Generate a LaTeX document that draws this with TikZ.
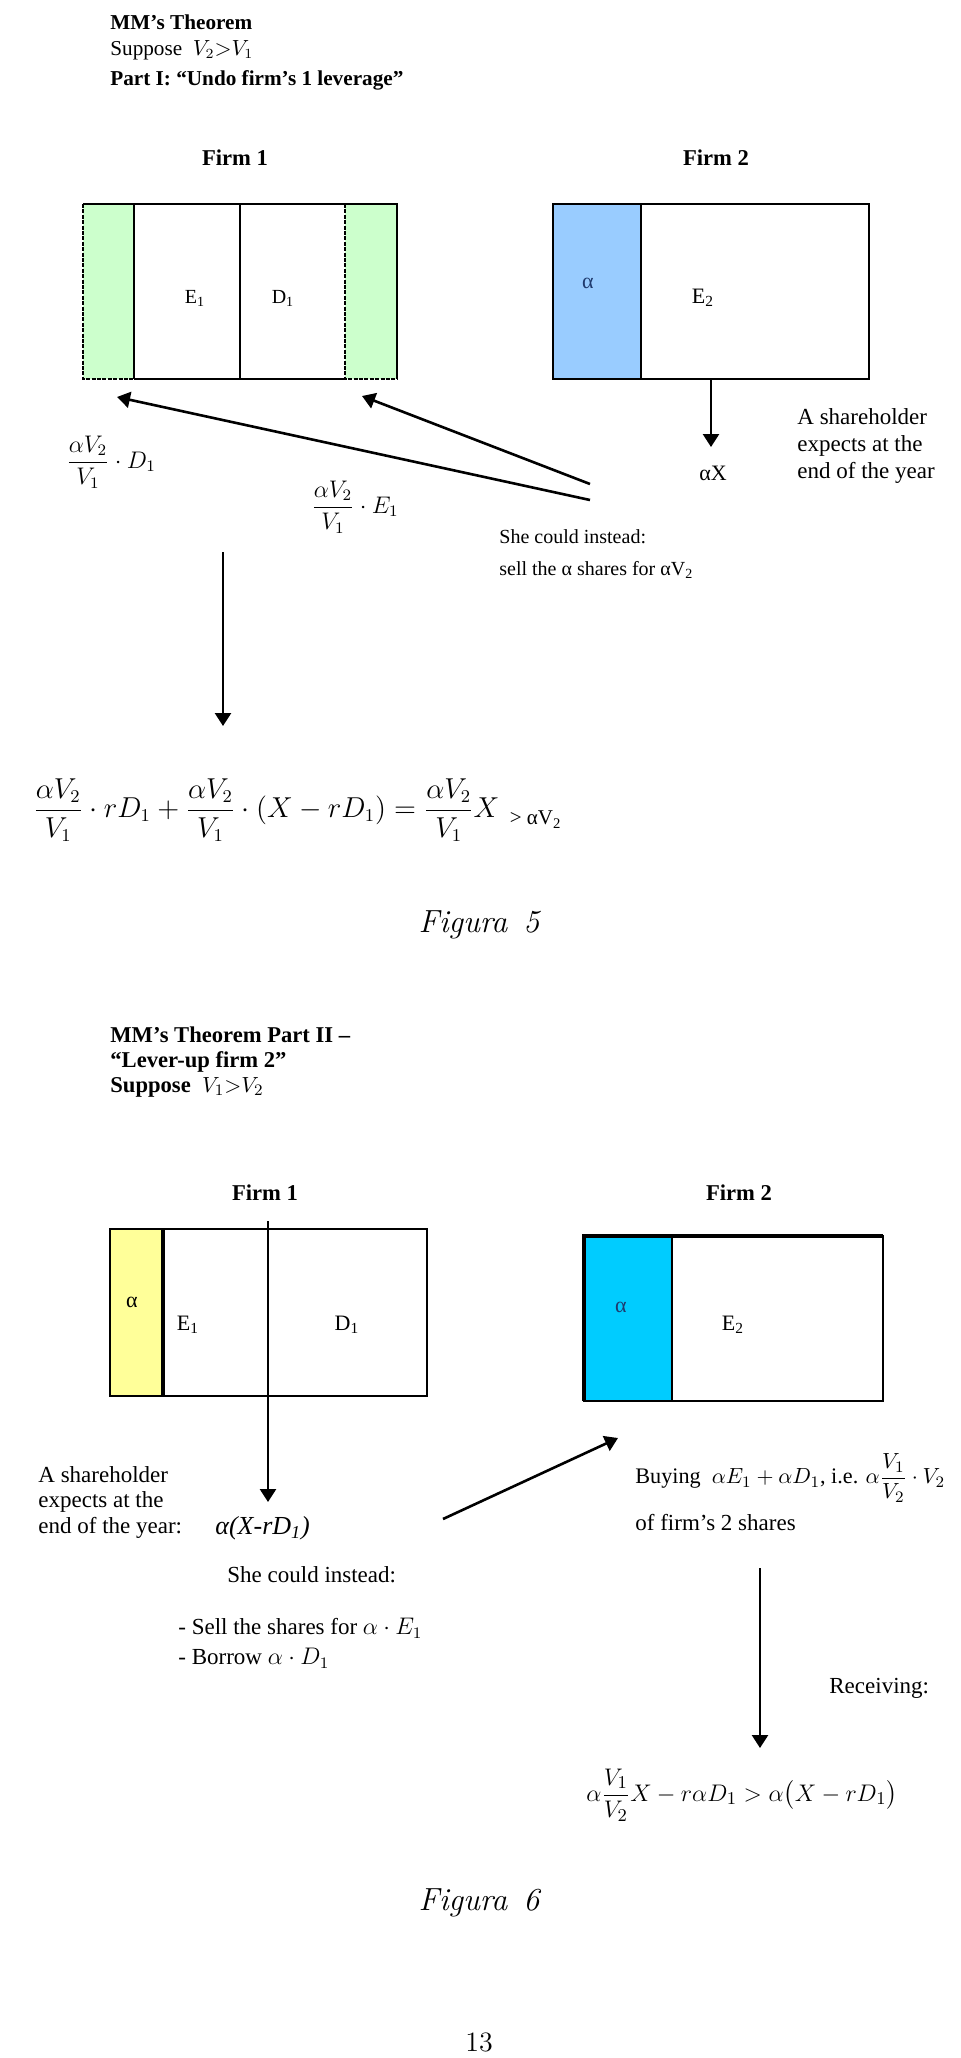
\documentclass[tikz,border=0pt]{standalone}
\usepackage{amsmath}
\usepackage{fontspec}
\usepackage{tikz}
\usetikzlibrary{arrows.meta, positioning}
\newfontfamily\tnr{Liberation Serif}
\definecolor{stripgreen}{HTML}{CCFFCC}
\definecolor{stripblue}{HTML}{99CCFF}
\definecolor{stripyellow}{HTML}{FFFF99}
\definecolor{stripcyan}{HTML}{00CCFF}
\definecolor{alphablue}{HTML}{1F3A6E}
\tikzstyle{arrow}    = [line width=1.3pt, -{Triangle[length=6.5pt, width=8pt]}]
\tikzstyle{boxline}  = [line width=1.1pt]
\tikzstyle{dashline} = [line width=1.1pt, dash pattern=on 2pt off 0.7pt]
\tikzstyle{heading}  = [anchor=west, font=\tnr\bfseries\fontsize{11.3}{13}\selectfont]
\tikzstyle{txt}      = [anchor=west, font=\tnr\fontsize{11.5}{13.5}\selectfont]
\tikzstyle{cell}     = [font=\tnr\fontsize{11}{13}\selectfont]
\tikzstyle{formula}  = [anchor=west, font=\tnr\fontsize{12}{14}\selectfont]
\tikzstyle{bigeq}    = [anchor=west, font=\tnr\fontsize{13.5}{16}\selectfont]
\tikzstyle{caption}  = [font=\rmfamily\itshape\fontsize{16}{19}\selectfont]
\tikzset{every node/.style={align=left, inner sep=0pt}}

\begin{document}
\begin{tikzpicture}[x=0.5pt, y=-0.5pt]
    \useasboundingbox[fill=white] (0,0) rectangle (960,2058);

    % Figura 5: undo firm 1 leverage
    \node (headA)  at (110, 22)  [heading, font=\tnr\bfseries\fontsize{10.6}{13}\selectfont] {MM’s Theorem};
    \node (suppA)  at (110, 50)  [txt, font=\tnr\fontsize{10.6}{13}\selectfont] {Suppose\ \ $V_2{>}V_1$};
    \node (partA)  at (110, 80)  [heading, font=\tnr\bfseries\fontsize{10.6}{13}\selectfont] {Part I: “Undo firm’s 1 leverage”};
    \node (firmA1) at (235,158) [heading, anchor=center] {Firm 1};
    \node (firmA2) at (716,158) [heading, anchor=center] {Firm 2};

    \fill [stripgreen] (83,204) rectangle (134,379);
    \fill [stripgreen] (345,204) rectangle (397,379);
    \draw [boxline]  (83,204) -- (397,204) -- (397,379);
    \draw [boxline]  (134,204) -- (134,379) (240,204) -- (240,379) (134,379) -- (345,379);
    \draw [dashline] (83,204) -- (83,379) -- (134,379) (345,204) -- (345,379) -- (397,379);
    \node (eA1) at (195,298) [cell, font=\tnr\fontsize{10}{12}\selectfont] {E\textsubscript{1}};
    \node (dA1) at (283,298) [cell, font=\tnr\fontsize{10}{12}\selectfont] {D\textsubscript{1}};

    \fill [stripblue] (553,204) rectangle (641,379);
    \draw [boxline] (553,204) rectangle (869,379) (641,204) -- (641,379);
    \node (aA2) at (588,283) [cell, text=alphablue] {α};
    \node (eA2) at (703,298) [cell] {E\textsubscript{2}};

    \coordinate (boxA2) at (711,379);
    \coordinate (tipA2) at (711,447);
    \node (axA) at (713,473) [cell] {αX};
    \node (shA) at (797,446) [txt] {A shareholder\\expects at the\\end of the year};
    \draw [arrow] (boxA2) -- (tipA2);

    \coordinate (fromA1) at (590,484);
    \coordinate (fromA2) at (590,500);
    \coordinate (toRight) at (362,396);
    \coordinate (toLeft)  at (117,397);
    \draw [arrow] (fromA1) -- (toRight);
    \draw [arrow] (fromA2) -- (toLeft);

    \node (fracD) at (66,462)  [formula] {$\dfrac{\alpha V_2}{V_1}\cdot D_1$};
    \node (fracE) at (311,507) [formula] {$\dfrac{\alpha V_2}{V_1}\cdot E_1$};
    \node (sheA)  at (499,554) [txt, font=\tnr\fontsize{10}{15.75}\selectfont]
          {She could instead:\\sell the α shares for αV\textsubscript{2}};

    \coordinate (downA1) at (223,552);
    \coordinate (downA2) at (223,726);
    \draw [arrow] (downA1) -- (downA2);

    \node (eqA) at (33,810) [bigeq]
          {$\dfrac{\alpha V_2}{V_1}\cdot rD_1+\dfrac{\alpha V_2}{V_1}\cdot(X-rD_1)=\dfrac{\alpha V_2}{V_1}X$\raisebox{-0.6ex}{\fontsize{10.5}{12}\selectfont\ \ > αV\textsubscript{2}}};
    \node (capA) at (479,925) [caption] {Figura\hspace{0.5em}5};

    % Figura 6: lever-up firm 2
    \node (headB) at (110,1035) [heading] {MM’s Theorem Part II –};
    \node (leverB) at (110,1062) [heading] {“Lever-up firm 2”};
    \node (suppB) at (110,1087) [heading] {Suppose\ \ \mdseries$V_1{>}V_2$};
    \node (firmB1) at (265,1193) [heading, anchor=center] {Firm 1};
    \node (firmB2) at (739,1193) [heading, anchor=center] {Firm 2};

    \fill [stripyellow] (110,1229) rectangle (163,1396);
    \draw [boxline] (110,1229) rectangle (427,1396);
    \draw [line width=2pt] (163,1229) -- (163,1396);
    \node (aB1) at (132,1302) [cell] {α};
    \node (eB1) at (188,1325) [cell] {E\textsubscript{1}};
    \node (dB1) at (347,1325) [cell] {D\textsubscript{1}};

    \fill [stripcyan] (584,1236) rectangle (672,1401);
    \draw [boxline] (584,1236) rectangle (883,1401) (672,1236) -- (672,1401);
    \draw [line width=2pt] (584,1401) -- (584,1236) -- (883,1236);
    \node (aB2) at (621,1307) [cell, text=alphablue] {α};
    \node (eB2) at (733,1325) [cell] {E\textsubscript{2}};

    \coordinate (topB) at (268,1221);
    \coordinate (tipB) at (268,1502);
    \draw [arrow] (topB) -- (tipB);
    \node (shB) at (38,1502) [txt, font=\tnr\fontsize{11.5}{12.75}\selectfont]
          {A shareholder\\expects at the\\end of the year:};
    \node (expB) at (215,1528) [txt, font=\tnr\fontsize{13}{15}\selectfont] {\itshape α(X-rD\textsubscript{1})};
    \node (sheB) at (227,1575) [txt] {She could instead:};
    \node (sellB) at (178,1643) [txt, font=\tnr\fontsize{11.5}{15}\selectfont]
          {- Sell the shares for $\alpha\cdot E_1$\\- Borrow $\alpha\cdot D_1$};

    \coordinate (fromB) at (443,1519);
    \coordinate (toB)   at (618,1438);
    \draw [arrow] (fromB) -- (toB);
    \node (buyB)  at (635,1478) [formula, font=\tnr\fontsize{11.1}{13}\selectfont]
          {Buying\ \ $\alpha E_1+\alpha D_1$, i.e. $\alpha\dfrac{V_1}{V_2}\cdot V_2$};
    \node (buyB2) at (635,1522) [txt] {of firm’s 2 shares};

    \coordinate (downB1) at (760,1568);
    \coordinate (downB2) at (760,1748);
    \draw [arrow] (downB1) -- (downB2);
    \node (recvB) at (829,1688) [txt] {Receiving:};
    \node (eqB) at (586,1795) [bigeq, font=\tnr\fontsize{13.1}{15}\selectfont]
          {$\alpha\dfrac{V_1}{V_2}X-r\alpha D_1>\alpha\bigl(X-rD_1\bigr)$};
    \node (capB) at (479,1903) [caption] {Figura\hspace{0.5em}6};
    \node (page) at (479,2042) [font=\rmfamily\fontsize{14}{16}\selectfont] {13};
\end{tikzpicture}
\end{document}
